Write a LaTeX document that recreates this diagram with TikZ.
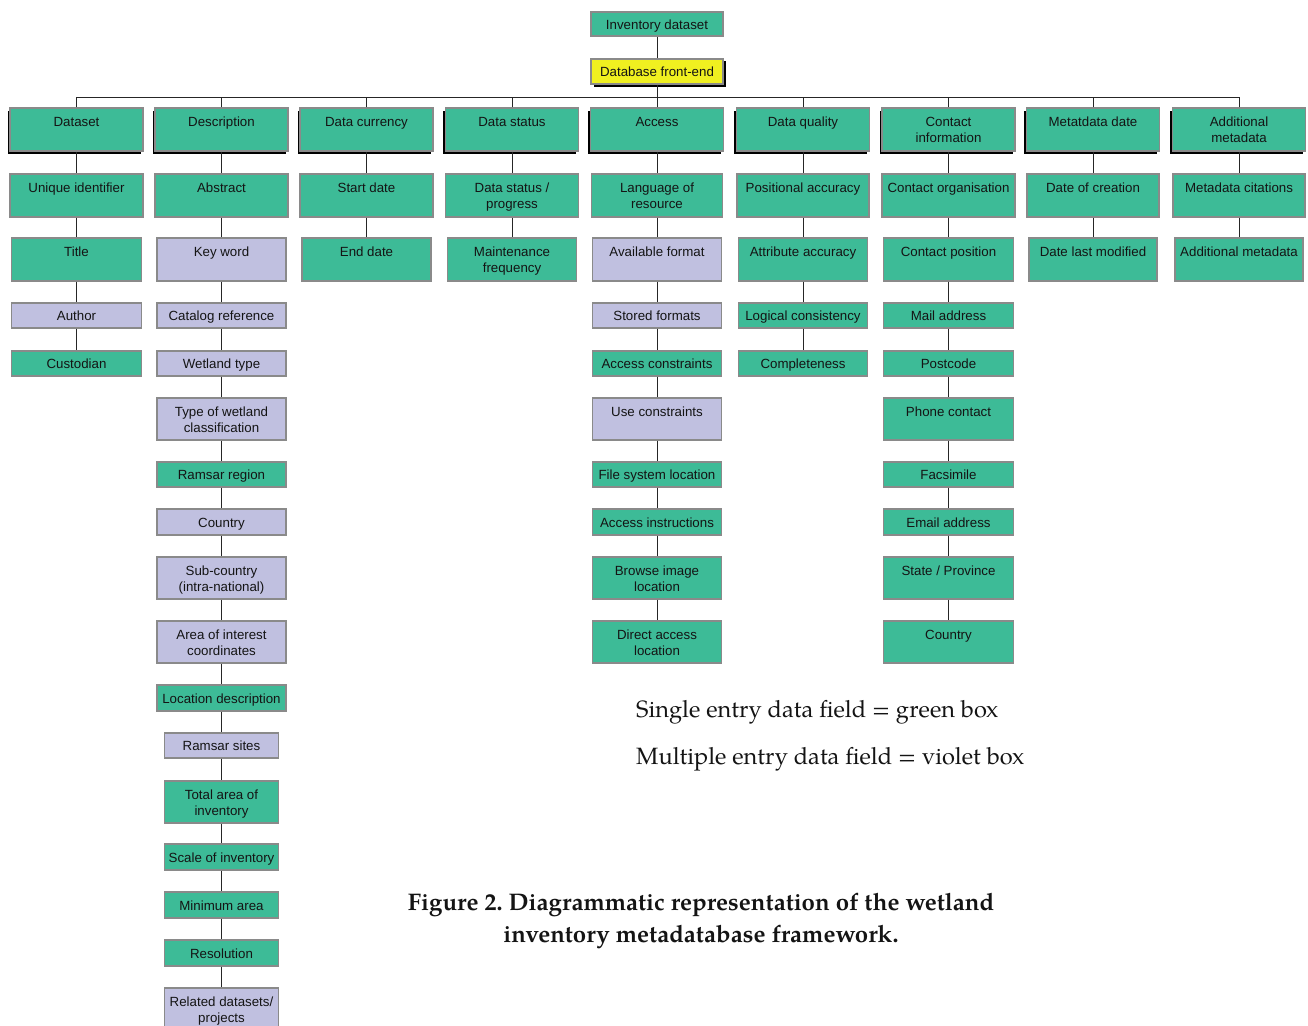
\documentclass[tikz,border=0pt]{standalone}
\usepackage{fontspec}
\setmainfont{Liberation Sans}
\newfontfamily\palfont{texgyrepagella}[Extension=.otf, UprightFont=*-regular, BoldFont=*-bold]
\usetikzlibrary{shadows}
\definecolor{gbox}{HTML}{3DBB97}
\definecolor{vbox}{HTML}{C0C0E0}
\definecolor{ybox}{HTML}{F0F020}
\definecolor{boxline}{HTML}{8A8A8A}
\definecolor{txt}{HTML}{141414}
% \bx[text shift]{style}{name}{x centre}{width}{top}{bottom}{text}
\newcommand{\bx}[8][2]{\node[#2, minimum width=#5pt, minimum height={(#7-#6)*1pt}] (#3) at (#4,{(#6+#7)/2}) {\raisebox{-#1pt}[\height][\depth]{\begin{tabular}{@{}c@{}}#8\end{tabular}}};}
\frenchspacing
\begin{document}
\begin{tikzpicture}[x=1pt,y=-1pt,
  box/.style={draw=boxline, line width=1.4pt, inner sep=0pt,
    font=\fontsize{13.3}{16}\selectfont, text=txt},
  gb/.style={box, fill=gbox},
  vb/.style={box, fill=vbox},
  hb/.style={gb, general shadow={fill=black, shadow xshift=-2.5pt, shadow yshift=-2.5pt}},
  yb/.style={box, fill=ybox, general shadow={fill=black, shadow xshift=2.5pt, shadow yshift=-2.5pt}},
  link/.style={draw=black!85, line width=1pt},
  legend/.style={font=\palfont\fontsize{23.6}{28}\selectfont, text=txt, inner sep=0pt},
  caption/.style={font=\palfont\bfseries\fontsize{24}{32}\selectfont, text=txt, inner sep=0pt, align=center}]
\useasboundingbox (0,0) rectangle (1308,1025);
\clip (0,0) rectangle (1308,1025);
\fill[white] (0,0) rectangle (1308,1025);

% top
\bx[2.2]{gb}{inv}{657}{132}{12}{36}{Inventory dataset}
\bx[2.2]{yb}{front}{657}{132}{59}{84}{Database front-end}
\draw[link] (inv.south) -- (front.north);

% headers
\bx{hb}{h1}{76.5}{133}{108}{151}{Dataset\\~}
\bx{hb}{h2}{221.5}{133}{108}{151}{Description\\~}
\bx{hb}{h3}{366.5}{133}{108}{151}{Data currency\\~}
\bx{hb}{h4}{512}{133}{108}{151}{Data status\\~}
\bx{hb}{h5}{657}{133}{108}{151}{Access\\~}
\bx{hb}{h6}{803}{133}{108}{151}{Data quality\\~}
\bx{hb}{h7}{948.5}{133}{108}{151}{Contact\\information}
\bx{hb}{h8}{1093}{133}{108}{151}{Metatdata date\\~}
\bx{hb}{h9}{1239}{133}{108}{151}{Additional\\metadata}

\coordinate (barL) at (76.5,97);
\coordinate (barR) at (1239,97);
\draw[link] (barL) -- (barR);
\draw[link] (front.south) -- (front.south |- barL);
\foreach \h in {h1,h2,h3,h4,h5,h6,h7,h8,h9}{
  \draw[link] (\h.north) -- (\h.north |- barL);
}

% column 1: Dataset
\bx{gb}{a2}{76.5}{133}{174}{217}{Unique identifier\\~}
\bx{gb}{a3}{76.5}{130}{238}{281}{Title\\~}
\bx[2.2]{vb}{a4}{76.5}{130}{303}{328}{Author}
\bx[2.2]{gb}{a5}{76.5}{130}{351}{376}{Custodian}
\draw[link] (h1.south) -- (a2.north);
\draw[link] (a2.south) -- (a3.north);
\draw[link] (a3.south) -- (a4.north);
\draw[link] (a4.south) -- (a5.north);

% column 2: Description
\bx{gb}{b2}{221.5}{133}{174}{217}{Abstract\\~}
\bx{vb}{b3}{221.5}{129}{238}{281}{Key word\\~}
\bx[2.2]{vb}{b4}{221.5}{129}{303}{328}{Catalog reference}
\bx[2.2]{vb}{b5}{221.5}{129}{351}{376}{Wetland type}
\bx{vb}{b6}{221.5}{129}{398}{440}{Type of wetland\\classification}
\bx[2.2]{gb}{b7}{221.5}{129}{462}{487}{Ramsar region}
\bx[2.2]{vb}{b8}{221.5}{129}{509}{535}{Country}
\bx{vb}{b9}{221.5}{129}{557}{599}{Sub-country\\(intra-national)}
\bx{vb}{b10}{221.5}{129}{621}{663}{Area of interest\\coordinates}
\bx[2.2]{gb}{b11}{221.5}{129}{685}{711}{Location description}
\bx[2.2]{vb}{b12}{221.5}{114}{733}{758}{Ramsar sites}
\bx{gb}{b13}{221.5}{114}{781}{823}{Total area of\\inventory}
\bx[2.2]{gb}{b14}{221.5}{114}{844}{870}{Scale of inventory}
\bx[2.2]{gb}{b15}{221.5}{114}{892}{918}{Minimum area}
\bx[2.2]{gb}{b16}{221.5}{114}{940}{966}{Resolution}
\bx{vb}{b17}{221.5}{114}{988}{1030}{Related datasets/\\projects}
\draw[link] (h2.south) -- (b2.north);
\foreach \i [count=\j from 3] in {2,...,16}{
  \draw[link] (b\i.south) -- (b\j.north);
}

% column 3: Data currency
\bx{gb}{c2}{366.5}{133}{174}{217}{Start date\\~}
\bx{gb}{c3}{366.5}{129}{238}{281}{End date\\~}
\draw[link] (h3.south) -- (c2.north);
\draw[link] (c2.south) -- (c3.north);

% column 4: Data status
\bx{gb}{d2}{512}{133}{174}{217}{Data status /\\progress}
\bx{gb}{d3}{512}{129}{238}{281}{Maintenance\\frequency}
\draw[link] (h4.south) -- (d2.north);
\draw[link] (d2.south) -- (d3.north);

% column 5: Access
\bx{gb}{e2}{657}{131}{174}{217}{Language of\\resource}
\bx{vb}{e3}{657}{129}{238}{281}{Available format\\~}
\bx[2.2]{vb}{e4}{657}{129}{303}{328}{Stored formats}
\bx[2.2]{gb}{e5}{657}{129}{351}{376}{Access constraints}
\bx{vb}{e6}{657}{129}{398}{440}{Use constraints\\~}
\bx[2.2]{gb}{e7}{657}{129}{462}{487}{File system location}
\bx[2.2]{gb}{e8}{657}{129}{509}{535}{Access instructions}
\bx{gb}{e9}{657}{129}{557}{599}{Browse image\\location}
\bx{gb}{e10}{657}{129}{621}{663}{Direct access\\location}
\draw[link] (h5.south) -- (e2.north);
\foreach \i [count=\j from 3] in {2,...,9}{
  \draw[link] (e\i.south) -- (e\j.north);
}

% column 6: Data quality
\bx{gb}{f2}{803}{132}{174}{217}{Positional accuracy\\~}
\bx{gb}{f3}{803}{129}{238}{281}{Attribute accuracy\\~}
\bx[2.2]{gb}{f4}{803}{129}{303}{328}{Logical consistency}
\bx[2.2]{gb}{f5}{803}{129}{351}{376}{Completeness}
\draw[link] (h6.south) -- (f2.north);
\foreach \i [count=\j from 3] in {2,...,4}{
  \draw[link] (f\i.south) -- (f\j.north);
}

% column 7: Contact information
\bx{gb}{g2}{948.5}{133}{174}{217}{Contact organisation\\~}
\bx{gb}{g3}{948.5}{130}{238}{281}{Contact position\\~}
\bx[2.2]{gb}{g4}{948.5}{130}{303}{328}{Mail address}
\bx[2.2]{gb}{g5}{948.5}{130}{351}{376}{Postcode}
\bx{gb}{g6}{948.5}{130}{398}{440}{Phone contact\\~}
\bx[2.2]{gb}{g7}{948.5}{130}{462}{487}{Facsimile}
\bx[2.2]{gb}{g8}{948.5}{130}{509}{535}{Email address}
\bx{gb}{g9}{948.5}{130}{557}{599}{State / Province\\~}
\bx{gb}{g10}{948.5}{130}{621}{663}{Country\\~}
\draw[link] (h7.south) -- (g2.north);
\foreach \i [count=\j from 3] in {2,...,9}{
  \draw[link] (g\i.south) -- (g\j.north);
}

% column 8: Metadata date
\bx{gb}{k2}{1093}{132}{174}{217}{Date of creation\\~}
\bx{gb}{k3}{1093}{128}{238}{281}{Date last modified\\~}
\draw[link] (h8.south) -- (k2.north);
\draw[link] (k2.south) -- (k3.north);

% column 9: Additional metadata
\bx{gb}{m2}{1239}{132}{174}{217}{Metadata citations\\~}
\bx{gb}{m3}{1239}{128}{238}{281}{Additional metadata\\~}
\draw[link] (h9.south) -- (m2.north);
\draw[link] (m2.south) -- (m3.north);

% legend and caption
\node[legend, anchor=base west] (leg1) at (636,717) {Single entry data field = green box};
\node[legend, anchor=base west] (leg2) at (636,764) {Multiple entry data field = violet box};
\node[caption] (cap) at (701,921) {Figure 2. Diagrammatic representation of the wetland\\inventory metadatabase framework.};
\end{tikzpicture}
\end{document}
